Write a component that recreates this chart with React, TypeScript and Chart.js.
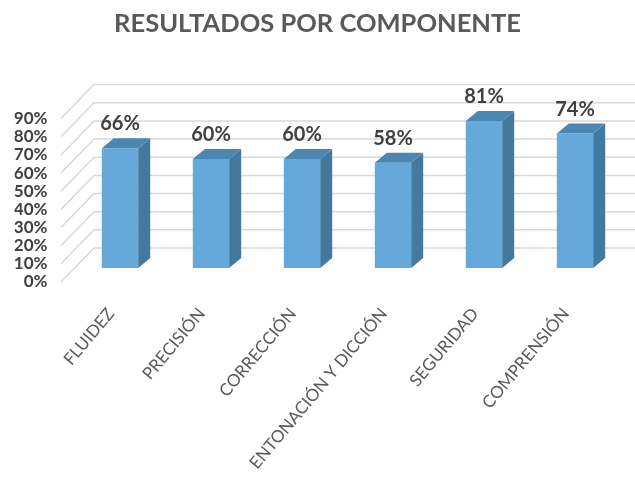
import { useEffect, useRef } from "react";
import { Chart, registerables } from "chart.js";

Chart.register(...registerables);

const titleText = "RESULTADOS POR COMPONENTE";
const categories = [
  "FLUIDEZ",
  "PRECISIÓN",
  "CORRECCIÓN",
  "ENTONACIÓN Y DICCIÓN",
  "SEGURIDAD",
  "COMPRENSIÓN",
];
const values = [66, 60, 60, 58, 81, 74];
const yTicks = [0, 10, 20, 30, 40, 50, 60, 70, 80, 90];

// styling / 3D geometry
const W = 635;
const H = 478;
const FRONT = "#65A8D9";
const TOP = "#4A87B3";
const SIDE = "#44799F";
const GRID = "#d9d9d9";
const WALL = { dx: 33, dy: 34 }; // depth of the side wall
const PLANE = { dx: 13.5, dy: 14 }; // bars sit this far behind the front plane
const BAR = { dx: 12, dy: 10 }; // bar depth
const LIFT = 7.73; // PLANE.dy expressed in axis units

const threeD = {
  id: "threeD",
  beforeDatasetsDraw(chart: any) {
    const { ctx, chartArea } = chart;
    const yl = chart.scales.yl;
    ctx.save();
    ctx.strokeStyle = GRID;
    ctx.lineWidth = 1.5;
    const fx = chartArea.left - PLANE.dx;
    yTicks.forEach((v) => {
      const yf = yl.getPixelForValue(v);
      ctx.beginPath();
      ctx.moveTo(fx, yf);
      ctx.lineTo(fx + WALL.dx, yf - WALL.dy);
      ctx.lineTo(chart.width, yf - WALL.dy);
      ctx.stroke();
    });
    ctx.restore();
  },
  afterDatasetsDraw(chart: any) {
    const { ctx } = chart;
    const meta = chart.getDatasetMeta(0);
    ctx.save();
    meta.data.forEach((bar: any, i: number) => {
      const { x, y, base, width } = bar.getProps(["x", "y", "base", "width"], true);
      const l = x - width / 2;
      const r = x + width / 2;
      ctx.fillStyle = SIDE;
      ctx.beginPath();
      ctx.moveTo(r, y);
      ctx.lineTo(r + BAR.dx, y - BAR.dy);
      ctx.lineTo(r + BAR.dx, base - BAR.dy);
      ctx.lineTo(r, base);
      ctx.closePath();
      ctx.fill();
      ctx.fillStyle = TOP;
      ctx.beginPath();
      ctx.moveTo(l, y);
      ctx.lineTo(l + BAR.dx, y - BAR.dy);
      ctx.lineTo(r + BAR.dx, y - BAR.dy);
      ctx.lineTo(r, y);
      ctx.closePath();
      ctx.fill();
      ctx.fillStyle = "#404040";
      ctx.font = "bold 20px Lato";
      ctx.textAlign = "center";
      ctx.textBaseline = "alphabetic";
      ctx.fillText(values[i] + "%", x, y - BAR.dy - 8);
    });
    ctx.restore();
  },
};

export default function App() {
  const ref = useRef<HTMLCanvasElement>(null);
  useEffect(() => {
    if (!ref.current) return;
    const chart = new Chart(ref.current, {
      type: "bar",
      data: {
        labels: categories,
        datasets: [
          {
            data: values,
            backgroundColor: FRONT,
            borderWidth: 0,
            yAxisID: "y",
            xAxisID: "x",
            barPercentage: 0.4,
            categoryPercentage: 1,
            clip: false as any,
          },
        ],
      },
      options: {
        responsive: false,
        animation: false,
        layout: { padding: { left: 14.5, right: 14.5, top: 0, bottom: 0 } },
        plugins: {
          legend: { display: false },
          tooltip: { enabled: false },
          title: {
            display: true,
            text: titleText,
            color: "#595959",
            font: { family: "Lato", size: 25.5, weight: "bold" },
            padding: { top: 8, bottom: 80 },
          },
        },
        scales: {
          x: {
            type: "category",
            offset: true,
            grid: { display: false },
            border: { display: false },
            ticks: {
              autoSkip: false,
              minRotation: 50,
              maxRotation: 50,
              padding: 14,
              labelOffset: -9,
              color: "#595959",
              font: { family: "Lato", size: 17 },
            },
            afterFit: (s: any) => {
              s.height = H - 282;
            },
          },
          yl: {
            axis: "y",
            type: "linear",
            position: "left",
            min: 0,
            max: 90,
            grid: { display: false },
            border: { display: false },
            ticks: {
              stepSize: 10,
              autoSkip: false,
              maxTicksLimit: 11,
              padding: 19,
              color: "#404040",
              font: { family: "Lato", size: 17, weight: "bold", lineHeight: 0.9 },
              callback: (v: any) => v + "%",
            },
            afterFit: (s: any) => {
              s.width = 60;
            },
          },
          y: {
            axis: "y",
            type: "linear",
            display: false,
            min: -LIFT,
            max: 90 - LIFT,
          },
        },
      },
      plugins: [threeD],
    } as any);
    return () => chart.destroy();
  }, []);
  return (
    <div style={{ position: "absolute", left: 0, top: 0, width: W, height: H }}>
      <canvas ref={ref} width={W} height={H} style={{ display: "block" }} />
    </div>
  );
}
